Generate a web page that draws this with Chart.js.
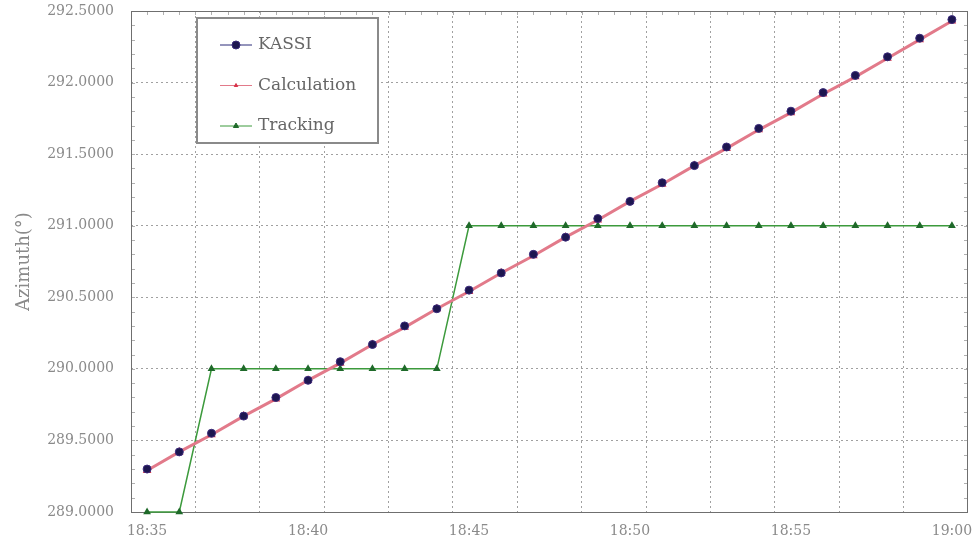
<!DOCTYPE html>
<html>
<head>
<meta charset="utf-8">
<script src="https://cdn.jsdelivr.net/npm/chart.js@4.4.1/dist/chart.umd.min.js"></script>
<style>
html, body { margin: 0; padding: 0; background: #fff; }
</style>
</head>
<body>
<canvas id="azimuth_chart" width="976" height="546"></canvas>
<script>
const times = ['18:35','18:36','18:37','18:38','18:39','18:40','18:41','18:42','18:43','18:44','18:45','18:46','18:47',
               '18:48','18:49','18:50','18:51','18:52','18:53','18:54','18:55','18:56','18:57','18:58','18:59','19:00'];
const kassi = [289.30,289.42,289.55,289.67,289.80,289.92,290.05,290.17,290.30,290.42,290.55,290.67,290.80,
               290.92,291.05,291.17,291.30,291.42,291.55,291.68,291.80,291.93,292.05,292.18,292.31,292.44];
const calculation = [289.29,289.42,289.54,289.67,289.79,289.92,290.04,290.17,290.29,290.42,290.54,290.67,290.79,
                     290.92,291.04,291.17,291.29,291.42,291.54,291.67,291.79,291.92,292.04,292.17,292.30,292.43];
const tracking = [289.0,289.0,290.0,290.0,290.0,290.0,290.0,290.0,290.0,290.0,291.0,291.0,291.0,
                  291.0,291.0,291.0,291.0,291.0,291.0,291.0,291.0,291.0,291.0,291.0,291.0,291.0];
const xTickLabels = ['18:35','18:40','18:45','18:50','18:55','19:00'];
const seriesNames = ['KASSI','Calculation','Tracking'];

const FONT = "'DejaVu Serif', 'Liberation Serif', serif";

// minutes after 18:35
function toMin(t) {
    const p = t.split(':');
    return (+p[0]) * 60 + (+p[1]) - (18 * 60 + 35);
}
function toPoints(values) {
    return values.map((v, i) => ({ x: toMin(times[i]), y: v }));
}
const labelMins = xTickLabels.map(toMin);

const frame = {
    id: 'frame',
    beforeDatasetsDraw(chart) {
        const a = chart.chartArea, ctx = chart.ctx;
        const xs = chart.scales.x, ys = chart.scales.y;
        ctx.save();
        // small inner ticks
        ctx.strokeStyle = '#b0b0b0';
        ctx.lineWidth = 1;
        ctx.beginPath();
        for (let v = 289.1; v < 292.5; v += 0.1) {
            const y = Math.round(ys.getPixelForValue(v)) + 0.5;
            ctx.moveTo(a.left, y); ctx.lineTo(a.left + 4, y);
            ctx.moveTo(a.right, y); ctx.lineTo(a.right - 4, y);
        }
        for (let v = 0; v < 25.5; v += 0.5) {
            const x = Math.round(xs.getPixelForValue(v)) + 0.5;
            ctx.moveTo(x, a.top); ctx.lineTo(x, a.top + 4);
        }
        ctx.stroke();
        ctx.strokeStyle = '#6f6f6f';
        ctx.strokeRect(a.left + 0.5, a.top + 0.5, a.right - a.left - 1, a.bottom - a.top);
        ctx.restore();
    }
};

const boxLegend = {
    id: 'boxLegend',
    afterDraw(chart) {
        const ctx = chart.ctx;
        const bx = 197, by = 18, bw = 181, bh = 125;
        ctx.save();
        ctx.fillStyle = '#fff';
        ctx.fillRect(bx, by, bw, bh);
        ctx.strokeStyle = '#8a8a8a';
        ctx.lineWidth = 2;
        ctx.strokeRect(bx, by, bw, bh);
        ctx.font = '17px ' + FONT;
        ctx.textBaseline = 'middle';
        chart.data.datasets.forEach((ds, i) => {
            const y = by + 27 + i * 40.5;
            ctx.strokeStyle = ds.borderColor;
            ctx.lineWidth = 1;
            ctx.beginPath();
            ctx.moveTo(bx + 23, y);
            ctx.lineTo(bx + 55, y);
            ctx.stroke();
            ctx.fillStyle = ds.pointBackgroundColor;
            ctx.strokeStyle = ds.pointBorderColor;
            Chart.helpers.drawPoint(ctx, {
                pointStyle: ds.pointStyle, radius: ds.pointRadius, borderWidth: 1
            }, bx + 39, y);
            ctx.fillStyle = '#666';
            ctx.fillText(ds.label, bx + 61, y);
        });
        ctx.restore();
    }
};

const ctx = document.getElementById('azimuth_chart').getContext('2d');
const chart = new Chart(ctx, {
    type: 'line',
    data: {
        datasets: [{
            label: seriesNames[0],
            data: toPoints(kassi),
            borderColor: '#2a2a78',
            borderWidth: 1,
            showLine: false,
            pointStyle: 'circle',
            pointRadius: 4,
            pointBackgroundColor: '#1d1650',
            pointBorderColor: '#3a2a7a',
            clip: 8
        }, {
            label: seriesNames[1],
            data: toPoints(calculation),
            borderColor: '#e27a8a',
            borderWidth: 3,
            pointStyle: 'triangle',
            pointRadius: 2,
            pointBackgroundColor: '#d8344a',
            pointBorderColor: '#d8344a',
            clip: 8
        }, {
            label: seriesNames[2],
            data: toPoints(tracking),
            borderColor: '#3c9a3c',
            borderWidth: 1.5,
            pointStyle: 'triangle',
            pointRadius: 3,
            pointBackgroundColor: '#1f6a2a',
            pointBorderColor: '#1f6a2a',
            clip: 8
        }]
    },
    options: {
        responsive: false,
        animation: false,
        devicePixelRatio: 1,
        layout: { padding: { left: 0, right: 8, top: 11, bottom: 0 } },
        plugins: { legend: { display: false }, tooltip: { enabled: false } },
        elements: { line: { tension: 0 } },
        scales: {
            x: {
                type: 'linear',
                min: -0.5,
                max: 25.5,
                afterBuildTicks(scale) {
                    const vals = labelMins.slice();
                    for (let v = 1.5; v < 25.5; v += 2) vals.push(v);
                    vals.sort((a, b) => a - b);
                    scale.ticks = vals.map(v => ({ value: v }));
                },
                afterFit(scale) {
                    scale.height = 34;
                    scale.paddingLeft = 0;
                    scale.paddingRight = 0;
                },
                ticks: {
                    autoSkip: false,
                    maxRotation: 0,
                    padding: 11,
                    color: '#8a8a8a',
                    font: { family: FONT, size: 14 },
                    callback(v) {
                        const i = labelMins.indexOf(v);
                        return i >= 0 ? xTickLabels[i] : '';
                    }
                },
                grid: {
                    color: c => (c.tick && labelMins.indexOf(c.tick.value) >= 0) ? 'rgba(0,0,0,0)' : '#a0a0a0',
                    drawTicks: false,
                    tickLength: 0
                },
                border: { display: false, dash: [2, 3] }
            },
            y: {
                min: 289,
                max: 292.5,
                afterFit(scale) {
                    scale.width = 131;
                    scale.paddingTop = 0;
                    scale.paddingBottom = 0;
                },
                ticks: {
                    stepSize: 0.5,
                    padding: 17,
                    color: '#8a8a8a',
                    font: { family: FONT, size: 14 },
                    callback: v => v.toFixed(4)
                },
                grid: {
                    color: c => (c.tick && (c.tick.value === 289 || c.tick.value === 292.5)) ? 'rgba(0,0,0,0)' : '#a0a0a0',
                    drawTicks: false,
                    tickLength: 0
                },
                border: { display: false, dash: [2, 3] },
                title: {
                    display: true,
                    text: 'Azimuth(°)',
                    color: '#8a8a8a',
                    font: { family: FONT, size: 18 },
                    padding: { top: 14, bottom: 0 }
                }
            }
        }
    },
    plugins: [frame, boxLegend]
});
</script>
</body>
</html>
